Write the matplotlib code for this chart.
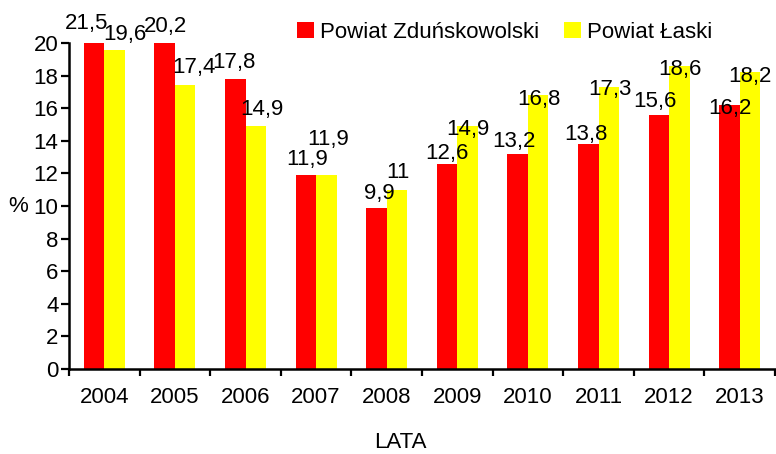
#!/usr/bin/env python3
"""
plot.py — Bar chart comparing two powiats (Zduńskowolski vs Łaski), 2004–2013.

Usage:
    python3 plot.py
"""

import matplotlib
matplotlib.use("Agg")
import matplotlib.pyplot as plt
import numpy as np

# ---------------------------------------------------------------------------
# Data
# ---------------------------------------------------------------------------

YEARS = ["2004", "2005", "2006", "2007", "2008",
         "2009", "2010", "2011", "2012", "2013"]
ZDUNSKOWOLSKI = [21.5, 20.2, 17.8, 11.9, 9.9, 12.6, 13.2, 13.8, 15.6, 16.2]
LASKI = [19.6, 17.4, 14.9, 11.9, 11.0, 14.9, 16.8, 17.3, 18.6, 18.2]
SERIES_NAMES = ["Powiat Zduńskowolski", "Powiat Łaski"]

# ---------------------------------------------------------------------------
# Style / layout
# ---------------------------------------------------------------------------

RED = "#FF0000"
YELLOW = "#FFFF00"
FONT = ["Liberation Sans Narrow", "Liberation Sans", "DejaVu Sans"]
FS = 16
YMAX = 20
BAR_W = 0.29

# hand-placed label nudges (pixels): dx, gap above bar top
RED_DX = [-8, 1, -1, 1, 3, 0, -4, -2, -4, 0]
RED_GAP = [14, 11, 11, 10, 9, 5, 7, 4, 8, -9]
YEL_DX = [10, 9, 6, 2, 1, 0, 1, 1, 1, 0]
YEL_GAP = [10, 12, 11, 30, 12, -9, -10, -8, -9, -10]


def fmt(v):
    s = f"{v:g}"
    return s.replace(".", ",")


def label_bars(ax, xs, values, dxs, gaps):
    for x, v, dx, gap in zip(xs, values, dxs, gaps):
        ax.annotate(fmt(v), xy=(x, min(v, YMAX)), xytext=(dx, gap),
                    textcoords="offset pixels", ha="center", va="baseline",
                    fontsize=FS, family=FONT, annotation_clip=False)


def main():
    plt.rcParams["font.family"] = FONT

    fig = plt.figure(figsize=(7.76, 4.54), dpi=100)
    ax = fig.add_axes([69 / 776, 1 - 369 / 454, 706 / 776, 326 / 454])

    x = np.arange(len(YEARS))
    ax.bar(x - BAR_W / 2, ZDUNSKOWOLSKI, width=BAR_W, color=RED,
           label=SERIES_NAMES[0])
    ax.bar(x + BAR_W / 2, LASKI, width=BAR_W, color=YELLOW,
           label=SERIES_NAMES[1])

    label_bars(ax, x - BAR_W / 2, ZDUNSKOWOLSKI, RED_DX, RED_GAP)
    label_bars(ax, x + BAR_W / 2, LASKI, YEL_DX, YEL_GAP)

    ax.set_xlim(-0.5, len(YEARS) - 0.5)
    ax.set_ylim(0, YMAX)
    ax.set_yticks(range(0, YMAX + 1, 2))

    # ticks on category boundaries, labels centred under each group
    ax.set_xticks(np.arange(-0.5, len(YEARS), 1.0))
    ax.set_xticklabels([])
    ax.set_xticks(x, minor=True)
    ax.set_xticklabels(YEARS, minor=True)
    ax.tick_params(axis="x", which="major", direction="out", length=5,
                   width=1.6)
    ax.tick_params(axis="x", which="minor", length=0, pad=13, labelsize=FS)
    ax.tick_params(axis="y", direction="out", length=6, width=1.6, pad=1.5,
                   labelsize=FS)

    ax.spines[["top", "right"]].set_visible(False)
    for side in ("left", "bottom"):
        ax.spines[side].set_linewidth(1.8)

    fig.text(18 / 776, 1 - 206 / 454, "%", ha="center", va="center",
             fontsize=FS)
    fig.text(400 / 776, 1 - 443 / 454, "LATA", ha="center", va="center",
             fontsize=FS)

    fig.legend(loc="center left", bbox_to_anchor=(297 / 776, 1 - 32 / 454),
               ncol=2, frameon=False, fontsize=FS, handlelength=0.75,
               handleheight=0.75, handletextpad=0.3, columnspacing=1.1,
               borderpad=0, borderaxespad=0)

    fig.savefig("out.png", dpi=100)
    plt.close(fig)


if __name__ == "__main__":
    main()
